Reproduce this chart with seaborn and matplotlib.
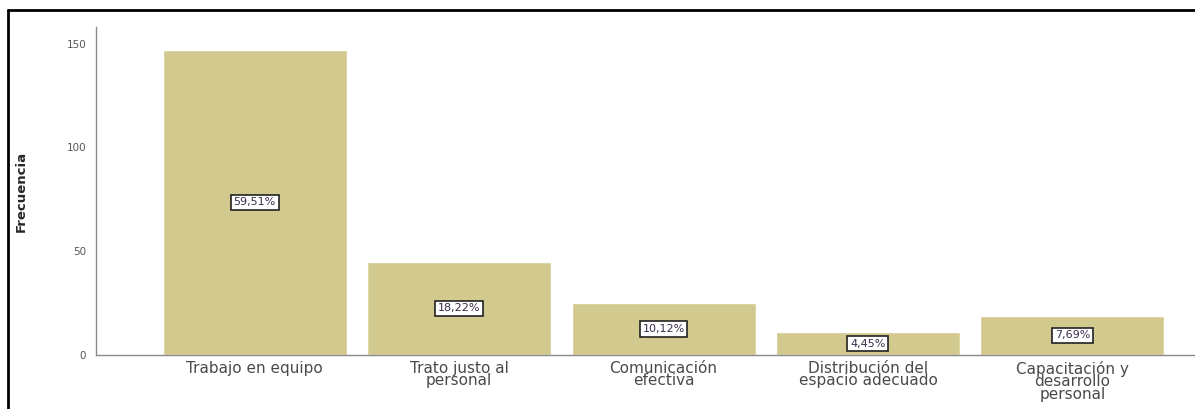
import matplotlib
matplotlib.use("Agg")
import matplotlib.pyplot as plt
from matplotlib.lines import Line2D
import seaborn as sns
import pandas as pd

categorias = [
    "Trabajo en equipo",
    "Trato justo al\npersonal",
    "Comunicación\nefectiva",
    "Distribución del\nespacio adecuado",
    "Capacitación y\ndesarrollo\npersonal",
]
frecuencias = [147, 45, 25, 11, 19]
porcentajes = ["59,51%", "18,22%", "10,12%", "4,45%", "7,69%"]
ticks_y = [0, 50, 100, 150]

sns.set_style("white")
plt.rcParams["font.family"] = ["DejaVu Sans"]

df = pd.DataFrame({"categoria": categorias, "frecuencia": frecuencias})

fig = plt.figure(figsize=(11.95, 4.09), dpi=100)
ax = fig.add_axes([0.0803, 0.132, 0.9197, 0.802])

sns.barplot(data=df, x="categoria", y="frecuencia", color="#D1C98D",
            saturation=1, width=0.9, ax=ax)

ax.set_xlim(-0.777, 4.6)
ax.set_ylim(0, 158)
ax.set_yticks(ticks_y)
ax.set_yticklabels([str(t) for t in ticks_y], fontsize=7.5, color="#555555")
ax.tick_params(axis="y", length=0, pad=7)
ax.tick_params(axis="x", length=0, pad=4)
for lbl in ax.get_xticklabels():
    lbl.set_fontsize(11)
    lbl.set_color("#4a4a4a")
    lbl.set_linespacing(0.8)
    lbl.set_verticalalignment("top")

ax.set_xlabel("")
ax.set_ylabel("Frecuencia", fontsize=9.5, fontweight="bold",
              family=["Liberation Sans Narrow", "DejaVu Sans"])
ax.yaxis.set_label_coords(-0.062, 0.5)

for side in ["top", "right"]:
    ax.spines[side].set_visible(False)
for side in ["left", "bottom"]:
    ax.spines[side].set_color("#8a8a8a")
    ax.spines[side].set_linewidth(1.0)

for patch, pct, val in zip(ax.patches, porcentajes, frecuencias):
    cx = patch.get_x() + patch.get_width() / 2
    ax.text(cx, val / 2, pct, ha="center", va="center", fontsize=8,
            color="#3a2a4a",
            bbox=dict(boxstyle="square,pad=0.25", facecolor="white",
                      edgecolor="#222222", linewidth=1.2))

# frame around the figure (top and left edges)
fig.add_artist(Line2D([8 / 1195, 1.0], [1 - 10 / 409, 1 - 10 / 409],
                      transform=fig.transFigure, color="black", linewidth=2))
fig.add_artist(Line2D([8 / 1195, 8 / 1195], [0, 1 - 10 / 409],
                      transform=fig.transFigure, color="black", linewidth=2))

fig.savefig("out.png", dpi=100)
